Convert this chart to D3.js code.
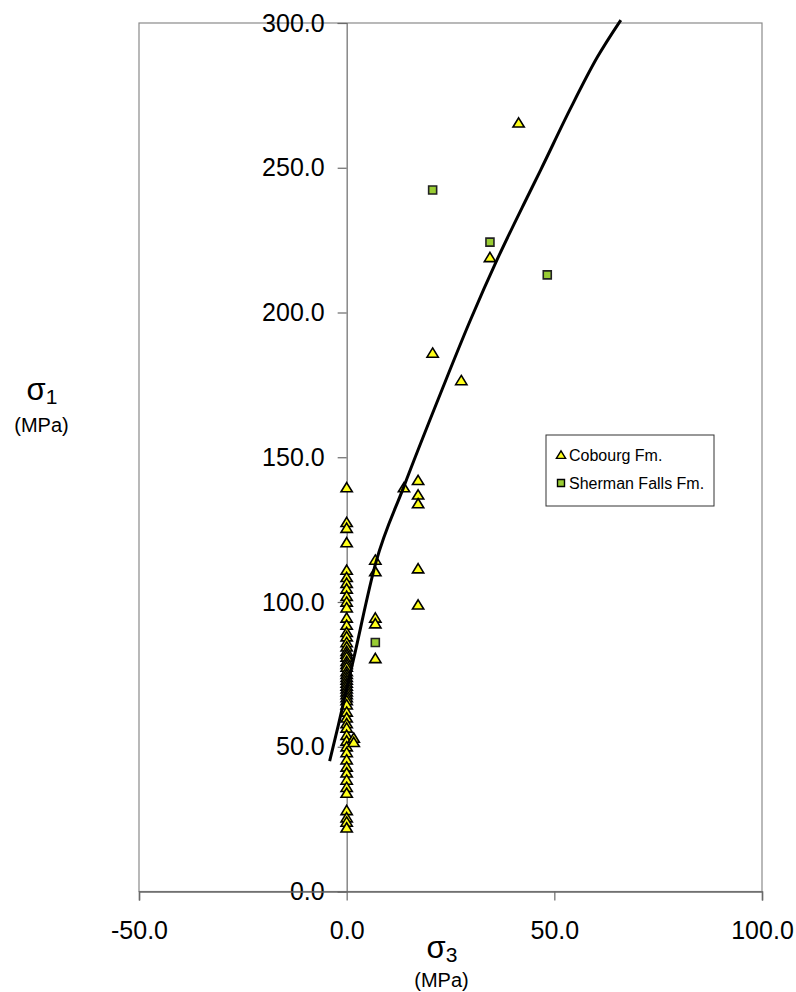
<!DOCTYPE html>
<html><head><meta charset="utf-8">
<script src="https://cdn.jsdelivr.net/npm/d3@7"></script>
<style>
body{margin:0;background:#fff}
svg{display:block}
text{font-family:"Liberation Sans",Arial,Helvetica,sans-serif;fill:#000}
</style>
</head><body>
<svg id="chart" width="796" height="992"></svg>
<script>
// ---- data ----
const xTickValues = [-50, 0, 50, 100];
const yTickValues = [0, 50, 100, 150, 200, 250, 300];

// Cobourg Fm. (triangles): sigma3, sigma1 in MPa
const cobourgSigma3 = [
  0,0,0,0,0,0,0,0,0,0,
  0,0,0,0,0,0,0,0,0,0,
  0,0,0,0,0,0,0,0,0,0,
  0,0,0,0,0,0,0,0,0,0,
  0,0,0,0,0,0,0,0,0,0,
  0,0,0,
  1.7,1.7,
  6.9,6.9,6.9,6.9,6.9,
  13.8,17.2,17.2,17.2,17.2,17.2,
  20.7,27.6,34.5,41.4
];
const cobourgSigma1 = [
  139.5,127.5,125.5,120.5,111,108.5,106.5,104.5,102,100,
  98,94.5,92,89.5,88,86,84.5,83,82,81,
  79.5,78.5,77.5,76,75,74,73,72,71,70,
  69,68,67,66,64.5,62,60,58,56.5,54,
  52,50,48,45.5,43,41,38.5,36,34,28,
  25.5,24,22,
  53,51.5,
  114.5,110.5,94.5,92.5,80.5,
  139.5,142,137,134,111.5,99,
  186,176.5,219,265.5
];

// Sherman Falls Fm. (squares)
const shermanSigma3 = [6.9, 20.7, 34.5, 48.3];
const shermanSigma1 = [86, 242.3, 224.3, 213];

// fitted strength envelope
const fitSigma3 = [-4.1, -2.0, 0, 1.7, 7.0, 13.7, 23.0, 29.8, 36.3, 43.5, 46.7, 53.9, 60.4, 66.0];
const fitSigma1 = [45, 57.5, 70, 80.5, 113.5, 139.6, 173.5, 197.4, 218.5, 239.9, 249.2, 270.5, 288.3, 301];

const seriesNames = ["Cobourg Fm.", "Sherman Falls Fm."];

// ---- layout ----
const svg = d3.select("#chart");
const plotLeft = 139, plotRight = 762, plotTop = 23, plotBottom = 891.5;

const x = d3.scaleLinear().domain([-50, 100]).range([plotLeft, plotRight]);
const y = d3.scaleLinear().domain([0, 300]).range([plotBottom, plotTop]);

const frameColor = "#8a8a8a";
const axisColor = "#6a6a6a";
const fmt = d => d.toFixed(1);

// plot frame
svg.append("rect")
  .attr("x", plotLeft).attr("y", plotTop)
  .attr("width", plotRight - plotLeft).attr("height", plotBottom - plotTop)
  .attr("fill", "none").attr("stroke", frameColor).attr("stroke-width", 1.2);

// y axis at sigma3 = 0
const yAxis = d3.axisLeft(y).tickValues(yTickValues).tickSize(9).tickPadding(13).tickFormat(fmt);
const gy = svg.append("g").attr("transform", `translate(${x(0)},0)`).call(yAxis);
gy.select(".domain").attr("stroke", axisColor).attr("stroke-width", 1.2);
gy.selectAll(".tick line").attr("stroke", axisColor).attr("stroke-width", 1.2);
gy.selectAll(".tick text").attr("font-size", 25).attr("font-family", "Liberation Sans, Arial, sans-serif").attr("fill", "#000");

// x axis at sigma1 = 0
const xAxis = d3.axisBottom(x).tickValues(xTickValues).tickSize(9).tickPadding(21).tickFormat(fmt);
const gx = svg.append("g").attr("transform", `translate(0,${y(0)})`).call(xAxis);
gx.select(".domain").attr("stroke", axisColor).attr("stroke-width", 1.5);
gx.selectAll(".tick line").attr("stroke", axisColor).attr("stroke-width", 1.2);
gx.selectAll(".tick text").attr("font-size", 25).attr("font-family", "Liberation Sans, Arial, sans-serif").attr("fill", "#000");

// marker shapes
const triangleType = {
  draw(ctx, size) {
    const w = Math.sqrt(size) * 1.1, h = w * 0.82;
    ctx.moveTo(0, -h * 0.55);
    ctx.lineTo(w / 2, h * 0.45);
    ctx.lineTo(-w / 2, h * 0.45);
    ctx.closePath();
  }
};
const triPath = d3.symbol().type(triangleType).size(105)();
const sqPath = d3.symbol().type(d3.symbolSquare).size(64)();
const triFill = "#ffff1a", sqFill = "#99cc33";

const cobourg = cobourgSigma3.map((s3, i) => ({ s3, s1: cobourgSigma1[i] }));
const sherman = shermanSigma3.map((s3, i) => ({ s3, s1: shermanSigma1[i] }));

svg.append("g").selectAll("path").data(cobourg).join("path")
  .attr("d", triPath)
  .attr("transform", d => `translate(${x(d.s3)},${y(d.s1)})`)
  .attr("fill", triFill).attr("stroke", "#000").attr("stroke-width", 1.6);

svg.append("g").selectAll("path").data(sherman).join("path")
  .attr("d", sqPath)
  .attr("transform", d => `translate(${x(d.s3)},${y(d.s1)})`)
  .attr("fill", sqFill).attr("stroke", "#222").attr("stroke-width", 1.6);

// fitted curve
const fit = fitSigma3.map((s3, i) => ({ s3, s1: fitSigma1[i] }));
svg.append("path").datum(fit)
  .attr("d", d3.line().x(d => x(d.s3)).y(d => y(d.s1)).curve(d3.curveMonotoneX))
  .attr("fill", "none").attr("stroke", "#000").attr("stroke-width", 3);

// axis titles
const t3 = svg.append("text").attr("x", 442).attr("y", 958).attr("text-anchor", "middle");
t3.append("tspan").attr("font-size", 31).text("σ");
t3.append("tspan").attr("font-size", 21).attr("dy", 4).text("3");
svg.append("text").attr("x", 441.5).attr("y", 987).attr("text-anchor", "middle")
  .attr("font-size", 20).text("(MPa)");

const t1 = svg.append("text").attr("x", 42).attr("y", 400).attr("text-anchor", "middle");
t1.append("tspan").attr("font-size", 31).text("σ");
t1.append("tspan").attr("font-size", 21).attr("dy", 4).text("1");
svg.append("text").attr("x", 41.5).attr("y", 432).attr("text-anchor", "middle")
  .attr("font-size", 20).text("(MPa)");

// legend
const lg = svg.append("g");
lg.append("rect").attr("x", 546).attr("y", 435).attr("width", 168).attr("height", 71)
  .attr("fill", "#fff").attr("stroke", "#333").attr("stroke-width", 1);
const legendItems = [
  { name: seriesNames[0], path: d3.symbol().type(triangleType).size(70)(), fill: triFill, yy: 455 },
  { name: seriesNames[1], path: d3.symbol().type(d3.symbolSquare).size(49)(), fill: sqFill, yy: 483 }
];
legendItems.forEach(it => {
  lg.append("path").attr("d", it.path).attr("transform", `translate(561,${it.yy})`)
    .attr("fill", it.fill).attr("stroke", "#000").attr("stroke-width", 1.4);
  lg.append("text").attr("x", 569).attr("y", it.yy + 6).attr("font-size", 16).text(it.name);
});
</script>
</body></html>
